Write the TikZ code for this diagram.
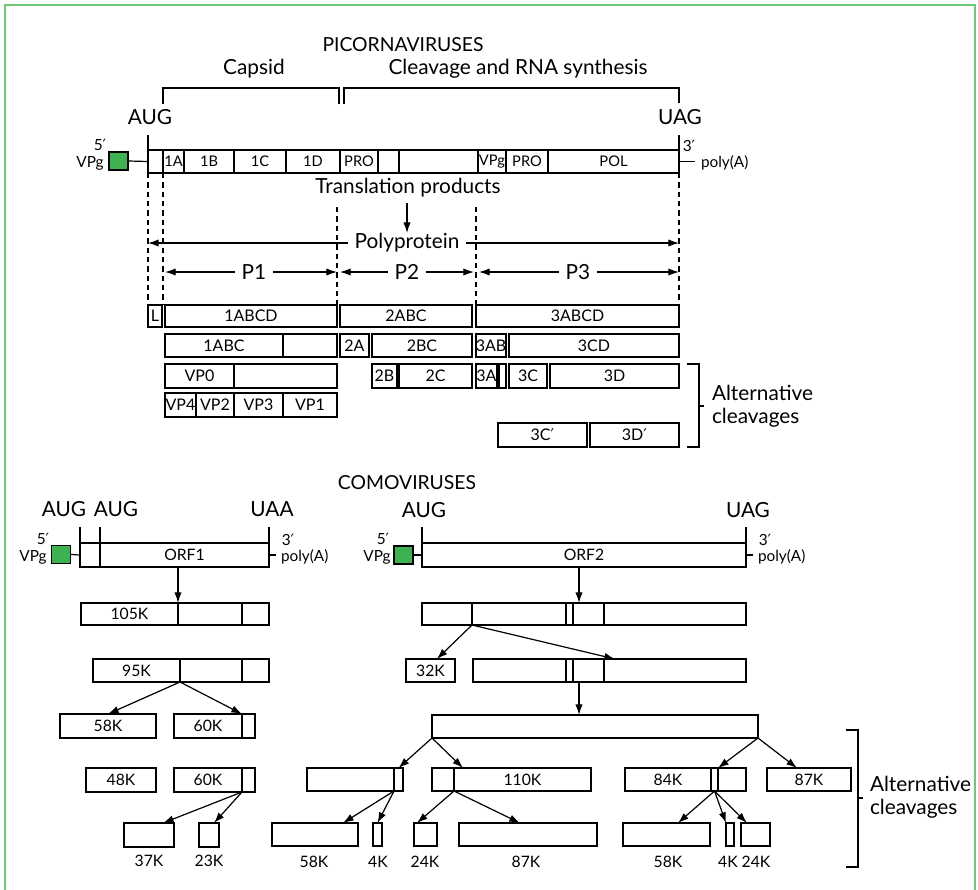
\documentclass[tikz,border=0pt]{standalone}
\usepackage{fontspec}
\setmainfont{Lato}
\newfontfamily\djv{DejaVu Sans}
\usetikzlibrary{arrows.meta,calc}
\definecolor{vgreen}{RGB}{60,178,80}
\definecolor{framegreen}{RGB}{110,200,120}
\newcommand\pr{{\djv\char"2032}}
\newcommand\fA{\fontsize{15.6}{17}\selectfont}
\newcommand\fT{\fontsize{14.5}{16}\selectfont}
\newcommand\fB{\fontsize{11.8}{13}\selectfont}
\newcommand\fR{\fontsize{12}{13}\selectfont}
\newcommand\fC{\fontsize{11.5}{13}\selectfont}
\newcommand\fS{\fontsize{11}{12}\selectfont}
\newcommand\seg[6]{\node[segst, minimum width={(#4-#2)*0.75pt}, minimum height={(#5-#3)*0.75pt}] (#1) at ({(#2+#4)/2},{(#3+#5)/2}) {\makebox[0pt]{#6}};}
\begin{document}
\begin{tikzpicture}[x=0.75pt,y=-0.75pt, font=\fA,
 segst/.style={draw, line width=0.9pt, inner sep=0pt, outer sep=0pt, rectangle},
 arr/.style={line width=0.9pt,-{Latex[length=8pt,width=5.5pt]}},
 ln/.style={line width=0.9pt},
 dsh/.style={line width=0.9pt, dash pattern=on 4pt off 3pt},
 lbl/.style={inner sep=0pt, outer sep=0pt},
 vpgbox/.style={draw, line width=0.9pt, fill=vgreen, minimum width=14.25pt, minimum height=13.5pt, inner sep=0pt}
]
\useasboundingbox (0,0) rectangle (978,889);
\draw[framegreen, line width=1.5pt] (5,895) -- (5,5) -- (975,5) -- (975,895);

%% ---------------- PICORNAVIRUSES ----------------
\node[lbl,font=\fT] (tpico) at (403,45) {PICORNAVIRUSES};
\node[lbl] (capsid) at (254,69) {Capsid};
\node[lbl] (cleav) at (518,69) {Cleavage and RNA synthesis};
\draw[ln] (163,104) -- (163,88) -- (339,88) -- (339,104);
\draw[ln] (344,104) -- (344,88) -- (679,88) -- (679,103);
\node[lbl] (aug) at (150,117) {AUG};
\node[lbl] (uag) at (680,117) {UAG};

\seg{p0}{148}{150}{163}{173}{}
\seg{p1A}{163}{150}{184}{173}{\fS 1A}
\seg{p1B}{184}{150}{234}{173}{\fS 1B}
\seg{p1C}{234}{150}{286}{173}{\fS 1C}
\seg{p1D}{286}{150}{340}{173}{\fS 1D}
\seg{pPRO}{340}{150}{378}{173}{\fS PRO}
\seg{pb1}{378}{150}{399}{173}{}
\seg{pb2}{399}{150}{478}{173}{}
\seg{pVPg}{478}{150}{506}{173}{\fS VPg}
\seg{pPRO3}{506}{150}{548}{173}{\fS PRO}
\seg{pPOL}{548}{150}{679}{173}{\fS POL}
\draw[ln] (148,135) -- (p0.north west);
\draw[ln] (679,135) -- (pPOL.north east);
\node[vpgbox] (pg1) at (118.5,161) {};
\draw[ln] (pg1.east) -- (p0.west);
\node[lbl,font=\fC] (p5) at (100,145) {5\pr};
\node[lbl,font=\fC] (pvpg) at (90,163) {VPg};
\node[lbl,font=\fC] (p3) at (689,146) {3\pr};
\node[lbl,font=\fC,anchor=west] (ppa) at (701,163) {poly(A)};
\draw[ln] (pPOL.east) -- ++(16,0);

\node[lbl] (trans) at (408,188) {Translation products};
\node[lbl] (poly) at (407,243) {Polyprotein};
\draw[arr] (407,203) -- (407,233);
\draw[arr] ([xshift=-5pt]poly.west) -- (148,243);
\draw[arr] ([xshift=5pt]poly.east) -- (679,243);

\node[lbl] (P1) at (254,272) {P1};
\node[lbl] (P2) at (407,272) {P2};
\node[lbl] (P3) at (578,272) {P3};
\draw[arr] ([xshift=-5pt]P1.west) -- (165,272);
\draw[arr] ([xshift=5pt]P1.east) -- (337,272);
\draw[arr] ([xshift=-5pt]P2.west) -- (340,272);
\draw[arr] ([xshift=5pt]P2.east) -- (474,272);
\draw[arr] ([xshift=-5pt]P3.west) -- (479,272);
\draw[arr] ([xshift=5pt]P3.east) -- (679,272);

% rows
\seg{rL}{148}{305}{162}{327}{\fR L}
\seg{r1ABCD}{165}{305}{337}{327}{\fR 1ABCD}
\seg{r2ABC}{340}{305}{472}{327}{\fR 2ABC}
\seg{r3ABCD}{476}{305}{679}{327}{\fR 3ABCD}

\seg{r1ABC}{165}{334}{283}{357}{\fR 1ABC}
\seg{r1x}{283}{334}{337}{357}{}
\seg{r2A}{340}{334}{369}{357}{\fR 2A}
\seg{r2BC}{372}{334}{472}{357}{\fR 2BC}
\seg{r3AB}{476}{334}{506}{357}{\fR 3AB}
\seg{r3CD}{509}{334}{679}{357}{\fR 3CD}

\seg{rVP0}{165}{364}{234}{388}{\fR VP0}
\seg{rVPx}{234}{364}{337}{388}{}
\seg{r2B}{372}{364}{397}{388}{\fR 2B}
\seg{r2C}{399}{364}{472}{388}{\fR 2C}
\seg{r3A}{476}{364}{497}{388}{\fR 3A}
\seg{r3s}{499}{364}{506}{388}{}
\seg{r3C}{509}{364}{547}{388}{\fR 3C}
\seg{r3D}{550}{364}{679}{388}{\fR 3D}

\seg{rVP4}{165}{393}{196}{417}{\fR VP4}
\seg{rVP2}{196}{393}{234}{417}{\fR VP2}
\seg{rVP3}{234}{393}{283}{417}{\fR VP3}
\seg{rVP1}{283}{393}{337}{417}{\fR VP1}

\seg{r3Cp}{498}{423}{587}{447}{\fR 3C\pr}
\seg{r3Dp}{590}{423}{679}{447}{\fR 3D\pr}

% dashed guides
\draw[dsh] (p0.south west) -- (rL.north west);
\draw[dsh] (p1A.south west) -- (p1A.south west |- r1ABCD.north);
\draw[dsh] (337,207) -- (r1ABCD.north east);
\draw[dsh] (476,207) -- (r3ABCD.north west);
\draw[dsh] (pPOL.south east) -- (r3ABCD.north east);

\draw[ln] (687,364) -- (699,364) -- (699,447) -- (687,447);
\draw[ln] (699,406) -- (704,406);
\node[lbl,anchor=west,align=left] (alt1) at (712,406) {Alternative\\cleavages};

%% ---------------- COMOVIRUSES ----------------
\node[lbl,font=\fT] (tcomo) at (407,483) {COMOVIRUSES};
\node[lbl] (augA) at (64,509) {AUG};
\node[lbl] (augB) at (116,509) {AUG};
\node[lbl] (uaa) at (272,509) {UAA};
\seg{o1a}{80}{543}{100}{567}{}
\seg{o1b}{100}{543}{269}{567}{\fB ORF1}
\draw[ln] (80,527) -- (o1a.north west);
\draw[ln] (100,527) -- (o1b.north west);
\draw[ln] (269,527) -- (o1b.north east);
\node[vpgbox] (pg2) at (61,554.5) {};
\draw[ln] (pg2.east) -- (o1a.west);
\node[lbl,font=\fC] (c5a) at (43,539) {5\pr};
\node[lbl,font=\fC] (cvpga) at (33,557) {VPg};
\node[lbl,font=\fC] (c3a) at (288,540) {3\pr};
\node[lbl,font=\fC,anchor=west] (cpaa) at (281,557) {poly(A)};
\draw[ln] (o1b.east) -- ++(7,0);

\seg{k105a}{81}{603}{178}{625}{\fB 105K}
\seg{k105b}{178}{603}{242}{625}{}
\seg{k105c}{242}{603}{269}{625}{}
\draw[arr] (o1b.south -| k105b.north west) -- (k105b.north west);

\seg{k95a}{93}{659}{180}{682}{\fB 95K}
\seg{k95b}{180}{659}{242}{682}{}
\seg{k95c}{242}{659}{269}{682}{}

\seg{k58}{60}{714}{156}{738}{\fB 58K}
\seg{k60a}{174}{714}{242}{738}{\fB 60K}
\seg{k60b}{242}{714}{255}{738}{}
\draw[arr] (k95a.south east) -- (k58.north);
\draw[arr] (k95a.south east) -- (k60b.north west);

\seg{k48}{86}{768}{156}{792}{\fB 48K}
\seg{k60c}{174}{768}{242}{792}{\fB 60K}
\seg{k60d}{242}{768}{255}{792}{}

\seg{k37}{124}{823}{174}{847}{}
\seg{k23}{199}{823}{219}{847}{}
\draw[arr] (k60d.south west) -- ($(k37.north)!0.56!(k37.north east)$);
\draw[arr] (k60d.south west) -- ($(k23.north)!0.5!(k23.north east)$);
\node[lbl,font=\fB] (l37) at (149,861) {37K};
\node[lbl,font=\fB] (l23) at (209,861) {23K};

% ORF2
\node[lbl] (augC) at (424,510) {AUG};
\node[lbl] (uagC) at (748,510) {UAG};
\seg{o2}{422}{543}{746}{567}{\fB ORF2}
\draw[ln] (422,527) -- (o2.north west);
\draw[ln] (746,527) -- (o2.north east);
\node[vpgbox] (pg3) at (403.5,555) {};
\draw[ln] (pg3.east) -- (o2.west);
\node[lbl,font=\fC] (c5b) at (383,539) {5\pr};
\node[lbl,font=\fC] (cvpgb) at (377,557) {VPg};
\node[lbl,font=\fC] (c3b) at (765,540) {3\pr};
\node[lbl,font=\fC,anchor=west] (cpab) at (758,557) {poly(A)};
\draw[ln] (o2.east) -- ++(7,0);

\seg{rA1}{422}{603}{472}{625}{}
\seg{rA2}{472}{603}{566}{625}{}
\seg{rA3}{566}{603}{573}{625}{}
\seg{rA4}{573}{603}{604}{625}{}
\seg{rA5}{604}{603}{746}{625}{}
\coordinate (xa) at ([xshift=4.5pt]rA4.north west);
\draw[arr] (o2.south -| xa) -- (xa);

\seg{k32}{406}{659}{455}{682}{\fB 32K}
\seg{rB1}{473}{659}{566}{682}{}
\seg{rB2}{566}{659}{573}{682}{}
\seg{rB3}{573}{659}{604}{682}{}
\seg{rB4}{604}{659}{746}{682}{}
\draw[arr] (rA2.south west) -- ($(k32.north west)!0.63!(k32.north east)$);
\draw[arr] (rA2.south west) -- ([xshift=8.25pt]rB4.north west);

\seg{big}{432}{715}{758}{738}{}
\coordinate (xb) at ([xshift=4.5pt]rB3.south west);
\draw[arr] (xb) -- (xb |- big.north);

\seg{L1a}{307}{768}{394}{791}{}
\seg{L1b}{394}{768}{403}{791}{}
\seg{k110a}{432}{768}{454}{791}{}
\seg{k110b}{454}{768}{591}{791}{\fB 110K}
\draw[arr] (big.south west) -- (L1b.north);
\draw[arr] (big.south west) -- ([xshift=6.75pt]k110b.north west);

\seg{b58}{272}{823}{358}{846}{}
\seg{b4}{373}{823}{382}{846}{}
\seg{b24}{414}{823}{437}{846}{}
\seg{b87}{459}{823}{597}{846}{}
\draw[arr] (L1b.south west) -- ([xshift=-11.25pt]b58.north east);
\draw[arr] (L1b.south west) -- (b4.north);
\draw[arr] (k110b.south west) -- ([xshift=2.25pt]b24.north west);
\draw[arr] (k110b.south west) -- ([xshift=-6pt]b87.north);
\node[lbl,font=\fB] (lb58) at (314,862) {58K};
\node[lbl,font=\fB] (lb4) at (378,862) {4K};
\node[lbl,font=\fB] (lb24) at (425,862) {24K};
\node[lbl,font=\fB] (lb87) at (526,862) {87K};

\seg{r84a}{625}{768}{711}{791}{\fB 84K}
\seg{r84b}{711}{768}{718}{791}{}
\seg{r84c}{718}{768}{746}{791}{}
\seg{k87}{767}{768}{851}{791}{\fB 87K}
\draw[arr] (big.south east) -- (r84c.north west);
\draw[arr] (big.south east) -- ([xshift=22.5pt]k87.north west);

\seg{c58}{623}{823}{710}{846}{}
\seg{c4}{726}{823}{734}{846}{}
\seg{c24}{741}{823}{770}{846}{}
\draw[arr] (r84b.south) -- ([xshift=8.6pt]c58.north);
\draw[arr] (r84b.south) -- (c4.north west);
\draw[arr] (r84b.south) -- ([xshift=4.5pt]c24.north west);
\node[lbl,font=\fB] (lc58) at (668,862) {58K};
\node[lbl,font=\fB] (lc4) at (728,862) {4K};
\node[lbl,font=\fB] (lc24) at (756,862) {24K};

\draw[ln] (846,730) -- (858,730) -- (858,867) -- (846,867);
\draw[ln] (858,798) -- (863,798);
\node[lbl,anchor=west,align=left] (alt2) at (870,797) {Alternative\\cleavages};
\end{tikzpicture}
\end{document}
